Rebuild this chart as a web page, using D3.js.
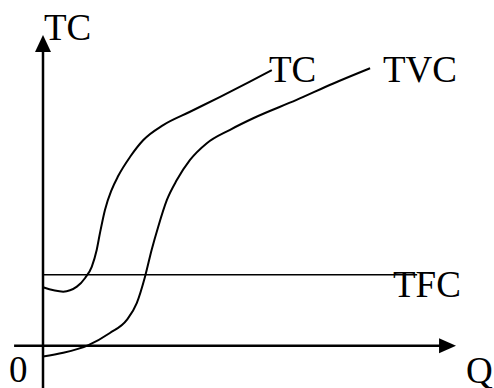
<!DOCTYPE html>
<head>
<meta charset="utf-8">
<title>Cost curves</title>
<script src="https://d3js.org/d3.v7.min.js"></script>
<style>
  body { margin: 0; background: #fff; }
  .lab { font-family: Liberation Serif, Tinos, Times New Roman, serif; font-size: 37px; }
</style>
</head>
<body>
<div id="chart"></div>
<script>

  // Q and cost in chart units (0..100 on each axis)
  var tcQ    = [0, 4.9, 8.2, 10.2, 11.8, 13.0, 13.8, 15.0, 16.6, 18.2, 21.1, 24.3, 29.1, 35.6, 42.9, 50.1, 55.4];
  var tcCost = [18.8, 17.4, 19.0, 21.8, 25.4, 30.8, 36.3, 43.7, 50.1, 54.6, 60.8, 66.2, 71.0, 75.3, 80.1, 85.0, 88.7];

  var tvcQ    = [0, 4.9, 11.0, 16.2, 20.3, 22.7, 24.7, 26.3, 27.9, 30.0, 32.4, 35.6, 39.6, 45.3, 50.9, 61.4, 70.3, 79.2];
  var tvcCost = [-3.5, -2.3, 0.2, 4.1, 8.3, 13.7, 22.2, 30.8, 38.3, 46.9, 53.3, 59.8, 65.1, 69.5, 73.2, 79.1, 84.4, 89.3];

  var tfcQ    = [0, 90.6];
  var tfcCost = [22.8, 22.8];

  var labels = ["TC", "TVC", "TFC", "0", "Q"];

  var width = 494, height = 388;

  var svg = d3.select("#chart")
    .append("svg")
      .attr("width", width)
      .attr("height", height);

  var x = d3.scaleLinear()
    .domain([0, 100])
    .range([43, 456]);

  var y = d3.scaleLinear()
    .domain([0, 100])
    .range([345.7, 35]);

  function pts(qs, cs) {
    return qs.map(function(q, i) { return [q, cs[i]]; });
  }

  var line = d3.line()
    .x(function(d) { return x(d[0]); })
    .y(function(d) { return y(d[1]); })
    .curve(d3.curveMonotoneX);

  // axes with arrow heads
  svg.append("line")
    .attr("x1", x(0)).attr("y1", y(-14))
    .attr("x2", x(0)).attr("y2", y(95))
    .style("stroke", "#000")
    .style("stroke-width", 2.5);

  svg.append("path")
    .attr("d", "M" + x(0) + "," + y(100) +
               "L" + (x(0) - 8) + "," + y(94.5) +
               "L" + (x(0) + 8) + "," + y(94.5) + "Z")
    .style("fill", "#000");

  svg.append("line")
    .attr("x1", x(-7)).attr("y1", y(0))
    .attr("x2", x(97)).attr("y2", y(0))
    .style("stroke", "#000")
    .style("stroke-width", 2.5);

  svg.append("path")
    .attr("d", "M" + x(100) + "," + y(0) +
               "L" + x(95.9) + "," + (y(0) - 7.5) +
               "L" + x(95.9) + "," + (y(0) + 7.5) + "Z")
    .style("fill", "#000");

  // TFC
  svg.append("path")
    .attr("d", d3.line().x(function(d) { return x(d[0]); }).y(function(d) { return y(d[1]); })(pts(tfcQ, tfcCost)))
    .style("fill", "none")
    .style("stroke", "#000")
    .style("stroke-width", 1.5);

  // TC and TVC
  [pts(tcQ, tcCost), pts(tvcQ, tvcCost)].forEach(function(p) {
    svg.append("path")
      .attr("d", line(p))
      .style("fill", "none")
      .style("stroke", "#000")
      .style("stroke-width", 2);
  });

  // labels
  var pos = [[44, 40, 0], [269, 82, 0], [383, 82, 1], [393, 297, 2], [9, 382, 3], [466, 383, 4]];
  svg.selectAll("text.lab")
    .data(pos)
    .enter()
    .append("text")
      .attr("class", "lab")
      .attr("x", function(d) { return d[0]; })
      .attr("y", function(d) { return d[1]; })
      .attr("fill", "#000")
      .text(function(d) { return labels[d[2]]; });

</script>
</body>
